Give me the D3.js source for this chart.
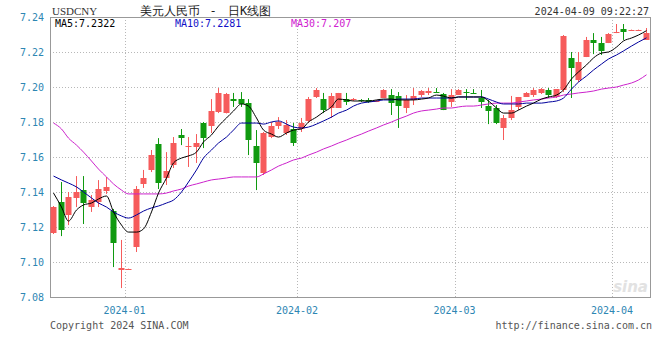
<!DOCTYPE html>
<html>
<head>
<meta charset="utf-8">
<script src="https://cdn.jsdelivr.net/npm/d3@7"></script>
<style>
  html, body { margin: 0; padding: 0; background: #fff; }
  svg text { font-family: "DejaVu Sans Mono", monospace; }
</style>
</head>
<body>
<div id="chart"></div>
<script>
// USDCNY daily candles, [open, high, low, close]
const ohlc = [
  [7.1166, 7.1320, 7.1160, 7.1314], [7.1343, 7.1457, 7.1148, 7.1183], [7.1269, 7.1400, 7.1211, 7.1371],
  [7.1366, 7.1491, 7.1314, 7.1400], [7.1411, 7.1491, 7.1217, 7.1337], [7.1314, 7.1383, 7.1286, 7.1354],
  [7.1343, 7.1468, 7.1314, 7.1417], [7.1406, 7.1486, 7.1389, 7.1429], [7.1291, 7.1303, 7.0971, 7.1109],
  [7.0954, 7.1126, 7.0851, 7.0966], [7.0959, 7.0962, 7.0958, 7.0960], [7.1086, 7.1434, 7.1057, 7.1417],
  [7.1446, 7.1526, 7.1423, 7.1480], [7.1526, 7.1640, 7.1514, 7.1611], [7.1674, 7.1708, 7.1417, 7.1451],
  [7.1480, 7.1628, 7.1440, 7.1520], [7.1554, 7.1714, 7.1537, 7.1680], [7.1726, 7.1760, 7.1668, 7.1708],
  [7.1657, 7.1714, 7.1543, 7.1663], [7.1657, 7.1731, 7.1566, 7.1680], [7.1794, 7.1800, 7.1651, 7.1708],
  [7.1777, 7.1931, 7.1737, 7.1863], [7.1857, 7.1994, 7.1851, 7.1966], [7.1851, 7.1966, 7.1849, 7.1960],
  [7.1931, 7.1966, 7.1886, 7.1920], [7.1931, 7.1971, 7.1886, 7.1903], [7.1909, 7.1931, 7.1611, 7.1697],
  [7.1663, 7.1754, 7.1411, 7.1566], [7.1508, 7.1743, 7.1497, 7.1737], [7.1714, 7.1800, 7.1708, 7.1777],
  [7.1777, 7.1828, 7.1760, 7.1800], [7.1737, 7.1811, 7.1726, 7.1783], [7.1760, 7.1794, 7.1663, 7.1680],
  [7.1760, 7.1823, 7.1743, 7.1794], [7.1806, 7.1943, 7.1794, 7.1931], [7.1943, 7.1994, 7.1937, 7.1983],
  [7.1931, 7.1966, 7.1851, 7.1868], [7.1880, 7.1966, 7.1823, 7.1949], [7.1880, 7.1966, 7.1880, 7.1966],
  [7.1931, 7.1966, 7.1897, 7.1914], [7.1926, 7.1937, 7.1920, 7.1931], [7.1926, 7.1931, 7.1914, 7.1920],
  [7.1926, 7.1937, 7.1909, 7.1914], [7.1920, 7.1926, 7.1914, 7.1921], [7.1937, 7.1988, 7.1937, 7.1983],
  [7.1954, 7.1988, 7.1840, 7.1909], [7.1949, 7.1971, 7.1766, 7.1891], [7.1880, 7.1954, 7.1851, 7.1926],
  [7.1926, 7.1994, 7.1897, 7.1949], [7.1954, 7.1983, 7.1943, 7.1977], [7.1966, 7.1994, 7.1954, 7.1977],
  [7.1971, 7.1994, 7.1966, 7.1966], [7.1960, 7.1966, 7.1868, 7.1868], [7.1914, 7.1988, 7.1886, 7.1954],
  [7.1954, 7.1988, 7.1954, 7.1983], [7.1971, 7.1988, 7.1926, 7.1966], [7.1966, 7.1988, 7.1960, 7.1963],
  [7.1937, 7.1983, 7.1880, 7.1914], [7.1891, 7.1926, 7.1788, 7.1863], [7.1880, 7.1897, 7.1788, 7.1794],
  [7.1766, 7.1840, 7.1697, 7.1823], [7.1823, 7.1949, 7.1811, 7.1868], [7.1886, 7.1943, 7.1868, 7.1943],
  [7.1943, 7.1971, 7.1943, 7.1966], [7.1954, 7.1994, 7.1943, 7.1983], [7.1966, 7.1994, 7.1960, 7.1988],
  [7.1983, 7.1994, 7.1937, 7.1954], [7.1943, 7.1988, 7.1937, 7.1988], [7.1983, 7.2297, 7.1971, 7.2291],
  [7.2166, 7.2200, 7.1937, 7.2108], [7.2040, 7.2200, 7.2028, 7.2143], [7.2171, 7.2286, 7.2171, 7.2268],
  [7.2268, 7.2308, 7.2188, 7.2251], [7.2251, 7.2286, 7.2183, 7.2206], [7.2251, 7.2308, 7.2251, 7.2303],
  [7.2308, 7.2360, 7.2308, 7.2314], [7.2331, 7.2360, 7.2269, 7.2314], [7.2323, 7.2328, 7.2321, 7.2326],
  [7.2323, 7.2328, 7.2321, 7.2326], [7.2269, 7.2337, 7.2269, 7.2308]
];

const ma5 = [
  7.1394, 7.1314, 7.1234, 7.1297, 7.1326, 7.1337, 7.1360, 7.1377, 7.1286, 7.1211,
  7.1171, 7.1171, 7.1189, 7.1286, 7.1394, 7.1480, 7.1566, 7.1594, 7.1606, 7.1628,
  7.1686, 7.1726, 7.1777, 7.1823, 7.1863, 7.1903, 7.1891, 7.1823, 7.1754, 7.1731,
  7.1714, 7.1737, 7.1754, 7.1760, 7.1800, 7.1828, 7.1857, 7.1886, 7.1931, 7.1926,
  7.1920, 7.1920, 7.1920, 7.1926, 7.1931, 7.1931, 7.1926, 7.1926, 7.1926, 7.1931,
  7.1937, 7.1954, 7.1948, 7.1937, 7.1943, 7.1943, 7.1943, 7.1943, 7.1920, 7.1880,
  7.1851, 7.1851, 7.1868, 7.1891, 7.1908, 7.1931, 7.1943, 7.1954, 7.1983, 7.2046,
  7.2086, 7.2126, 7.2166, 7.2194, 7.2200, 7.2228, 7.2263, 7.2280, 7.2297, 7.2322
];

const ma10 = [
  7.1491, 7.1469, 7.1451, 7.1429, 7.1400, 7.1366, 7.1337, 7.1314, 7.1286, 7.1263,
  7.1251, 7.1269, 7.1291, 7.1309, 7.1320, 7.1337, 7.1354, 7.1400, 7.1457, 7.1526,
  7.1594, 7.1640, 7.1680, 7.1714, 7.1754, 7.1794, 7.1794, 7.1794, 7.1788, 7.1800,
  7.1806, 7.1788, 7.1771, 7.1766, 7.1771, 7.1788, 7.1806, 7.1828, 7.1851, 7.1868,
  7.1891, 7.1908, 7.1914, 7.1920, 7.1926, 7.1926, 7.1931, 7.1931, 7.1931, 7.1937,
  7.1937, 7.1937, 7.1937, 7.1937, 7.1943, 7.1943, 7.1943, 7.1943, 7.1931, 7.1914,
  7.1903, 7.1903, 7.1903, 7.1908, 7.1908, 7.1908, 7.1914, 7.1920, 7.1937, 7.1988,
  7.2028, 7.2063, 7.2097, 7.2131, 7.2160, 7.2183, 7.2206, 7.2234, 7.2257, 7.2281
];

const ma30 = [
  7.1794, 7.1760, 7.1708, 7.1668, 7.1628, 7.1577, 7.1531, 7.1486, 7.1446, 7.1411,
  7.1389, 7.1389, 7.1389, 7.1389, 7.1389, 7.1394, 7.1406, 7.1417, 7.1434, 7.1446,
  7.1457, 7.1469, 7.1474, 7.1480, 7.1486, 7.1486, 7.1486, 7.1486, 7.1503, 7.1526,
  7.1548, 7.1566, 7.1583, 7.1594, 7.1611, 7.1628, 7.1646, 7.1663, 7.1680, 7.1697,
  7.1714, 7.1731, 7.1748, 7.1766, 7.1783, 7.1800, 7.1817, 7.1834, 7.1851, 7.1863,
  7.1868, 7.1874, 7.1880, 7.1880, 7.1886, 7.1891, 7.1891, 7.1897, 7.1903, 7.1908,
  7.1908, 7.1908, 7.1914, 7.1920, 7.1926, 7.1931, 7.1937, 7.1943, 7.1954, 7.1960,
  7.1966, 7.1971, 7.1977, 7.1988, 7.1994, 7.2000, 7.2011, 7.2023, 7.2040, 7.2070
];

const monthLabels = ['2024-01', '2024-02', '2024-03', '2024-04'];
const monthStart = [10, 33, 54, 75];   // index of first candle in each month
const yTicks = [7.08, 7.10, 7.12, 7.14, 7.16, 7.18, 7.20, 7.22, 7.24];

(function() {
  const W = 660, H = 360;
  const plotL = 50, plotR = 650, plotT = 17, plotB = 297;
  const UP = '#f65b5b', DOWN = '#109a10', AXIS_TXT = '#2d86b3';

  const svg = d3.select('#chart').append('svg')
    .attr('width', W).attr('height', H);

  const x = d3.scaleBand().domain(d3.range(ohlc.length)).range([49.5, 649.5]);
  const y = d3.scaleLinear().domain([7.08, 7.24]).range([plotB, plotT]);
  const cx = i => Math.round(x(i) + x.bandwidth() / 2);

  // horizontal dotted grid
  svg.append('g')
    .selectAll('line')
    .data(yTicks.slice(1, -1))
    .join('line')
    .attr('x1', plotL).attr('x2', plotR)
    .attr('y1', d => Math.round(y(d)) + 0.5).attr('y2', d => Math.round(y(d)) + 0.5)
    .attr('stroke', '#b8b8b8').attr('stroke-dasharray', '1,2');

  // vertical month grid
  svg.append('g')
    .selectAll('line')
    .data(monthStart)
    .join('line')
    .attr('x1', d => Math.round(x(d)) + 0.5).attr('x2', d => Math.round(x(d)) + 0.5)
    .attr('y1', plotT).attr('y2', plotB)
    .attr('stroke', '#b8b8b8').attr('stroke-dasharray', '1,2');

  // frame
  svg.append('rect')
    .attr('x', plotL + 0.5).attr('y', plotT + 0.5)
    .attr('width', plotR - plotL).attr('height', plotB - plotT)
    .attr('fill', 'none').attr('stroke', '#999');

  // sina watermark
  svg.append('text')
    .attr('x', 648).attr('y', 292).attr('text-anchor', 'end')
    .style('font-family', 'DejaVu Sans').style('font-style', 'italic').style('font-weight', 'bold')
    .style('font-size', '15px').attr('fill', '#e2e2e2')
    .text('sina');

  // y axis labels
  const yAxis = svg.append('g')
    .attr('transform', `translate(${plotL - 3},0)`)
    .call(d3.axisLeft(y).tickValues(yTicks).tickFormat(d3.format('.2f')).tickSize(0));
  yAxis.select('.domain').remove();
  yAxis.selectAll('text')
    .attr('fill', AXIS_TXT).style('font-size', '10px')
    .style('font-family', '"DejaVu Sans Mono", monospace');

  // x axis labels at month starts
  svg.append('g')
    .selectAll('text')
    .data(monthStart)
    .join('text')
    .attr('x', d => x(d))
    .attr('y', 314)
    .attr('text-anchor', 'middle')
    .attr('fill', AXIS_TXT).style('font-size', '10px')
    .text((d, i) => monthLabels[i]);

  // candles
  const candle = svg.append('g')
    .selectAll('g')
    .data(ohlc)
    .join('g')
    .attr('fill', d => d[3] >= d[0] ? UP : DOWN)
    .attr('stroke', d => d[3] >= d[0] ? UP : DOWN);

  candle.append('line')
    .attr('x1', (d, i) => cx(i) + 0.5).attr('x2', (d, i) => cx(i) + 0.5)
    .attr('y1', d => y(d[1])).attr('y2', d => y(d[2]))
    .attr('stroke-width', 1);

  candle.append('rect')
    .attr('x', (d, i) => cx(i) - 2.5)
    .attr('width', 6)
    .attr('y', d => Math.round(y(Math.max(d[0], d[3]))))
    .attr('height', d => Math.max(1, Math.round(Math.abs(y(d[0]) - y(d[3])))))
    .attr('stroke', 'none');

  // moving averages
  const maLine = d3.line().x((d, i) => cx(i) + 0.5).y(d => y(d)).curve(d3.curveMonotoneX);
  [[ma30, '#cc22cc'], [ma10, '#00009c'], [ma5, '#000']].forEach(([data, color]) => {
    svg.append('path')
      .datum(data)
      .attr('d', maLine)
      .attr('fill', 'none')
      .attr('stroke', color)
      .attr('stroke-width', 1);
  });

  // legend row inside the plot
  const legend = [
    ['MA5:' + ma5[ma5.length - 1].toFixed(4), '#000', 55],
    ['MA10:' + ma10[ma10.length - 1].toFixed(4), '#1010c8', 175],
    ['MA30:' + (+ma30[ma30.length - 1].toFixed(3)), '#d020d0', 291]
  ];
  svg.append('g')
    .selectAll('text')
    .data(legend)
    .join('text')
    .attr('x', d => d[2]).attr('y', 27)
    .attr('fill', d => d[1]).style('font-size', '10px')
    .text(d => d[0]);

  // header
  svg.append('text')
    .attr('x', 52).attr('y', 15)
    .style('font-family', '"Liberation Serif", serif').style('font-size', '11px')
    .attr('fill', '#333').text('USDCNY');
  const title = svg.append('g')
    .style('font-family', '"Noto Sans CJK SC", sans-serif').style('font-size', '12px')
    .attr('fill', '#222');
  title.append('text').attr('x', 140).attr('y', 15).text('美元人民币');
  title.append('text').attr('x', 213).attr('y', 15).attr('text-anchor', 'middle').text('-');
  title.append('text').attr('x', 228).attr('y', 15).text('日K线图');
  svg.append('text')
    .attr('x', 649).attr('y', 15).attr('text-anchor', 'end')
    .style('font-size', '10px').attr('fill', '#333')
    .text('2024-04-09 09:22:27');

  // footer
  svg.append('text')
    .attr('x', 50).attr('y', 329)
    .style('font-size', '10px').attr('fill', '#555')
    .text('Copyright 2024 SINA.COM');
  svg.append('text')
    .attr('x', 652).attr('y', 329).attr('text-anchor', 'end')
    .style('font-size', '10px').attr('fill', '#555')
    .text('http://finance.sina.com.cn');
})();
</script>
</body>
</html>
